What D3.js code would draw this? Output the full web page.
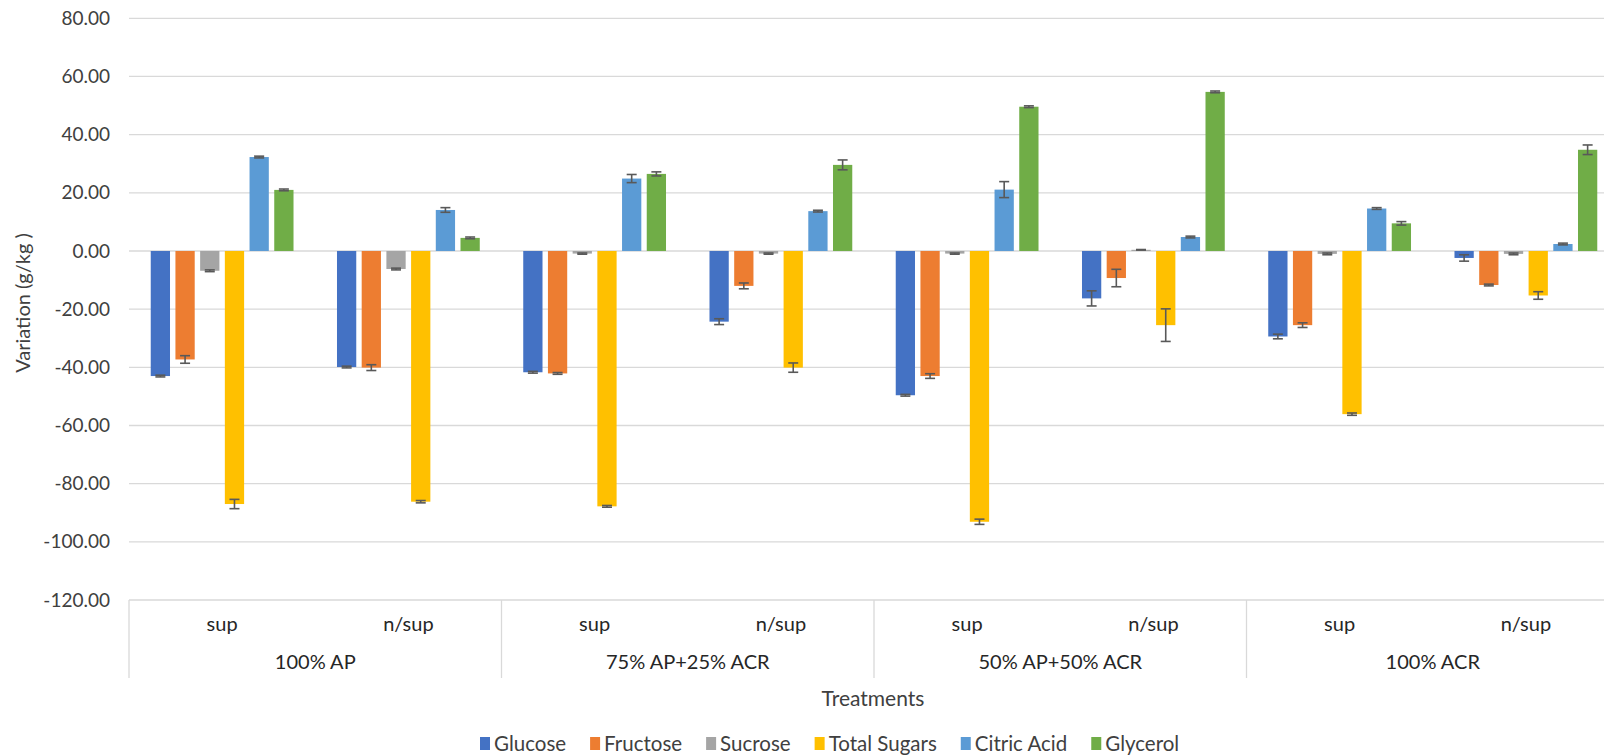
<!DOCTYPE html>
<html>
<head>
<meta charset="utf-8">
<script src="https://cdn.jsdelivr.net/npm/d3@7"></script>
<style>
    body { margin: 0; background: #fff; }
    svg { display: block; font-family: Lato, "Open Sans", sans-serif; }
</style>
</head>
<body>
<svg id="chart" width="1604" height="756"></svg>
<script>
// treatments and sub-categories (sup / n/sup inside each treatment)
const treatments = ["100% AP", "75% AP+25% ACR", "50% AP+50% ACR", "100% ACR"];
const subcats = ["sup", "n/sup"];
const series = ["Glucose", "Fructose", "Sucrose", "Total Sugars", "Citric Acid", "Glycerol"];
const colors = ["#4472C4", "#ED7D31", "#A5A5A5", "#FFC000", "#5B9BD5", "#70AD47"];

// values per series, order: AP sup, AP n/sup, 75/25 sup, 75/25 n/sup, 50/50 sup, 50/50 n/sup, ACR sup, ACR n/sup
const glucose     = [-43.0, -39.9, -41.7, -24.3, -49.6, -16.3, -29.4, -2.4];
const fructose    = [-37.3, -40.1, -42.1, -12.0, -43.0, -9.3, -25.5, -11.7];
const sucrose     = [-6.8, -6.2, -0.9, -0.9, -0.9, 0.4, -1.0, -1.0];
const totalSugars = [-87.0, -86.2, -87.8, -40.1, -93.1, -25.5, -56.1, -15.3];
const citricAcid  = [32.3, 14.1, 24.9, 13.7, 21.1, 4.8, 14.6, 2.4];
const glycerol    = [21.0, 4.5, 26.5, 29.6, 49.6, 54.7, 9.5, 34.8];

// error bar half-lengths
const glucoseErr     = [0.3, 0.3, 0.3, 1.0, 0.3, 2.6, 0.8, 1.1];
const fructoseErr    = [1.3, 1.0, 0.3, 1.0, 0.8, 3.0, 0.8, 0.3];
const sucroseErr     = [0.3, 0.3, 0.2, 0.2, 0.2, 0.1, 0.3, 0.3];
const totalSugarsErr = [1.6, 0.4, 0.3, 1.6, 0.9, 5.6, 0.4, 1.3];
const citricAcidErr  = [0.3, 0.8, 1.4, 0.3, 2.75, 0.3, 0.3, 0.3];
const glycerolErr    = [0.3, 0.3, 0.7, 1.7, 0.3, 0.3, 0.6, 1.65];

const yTicks = [-120, -100, -80, -60, -40, -20, 0, 20, 40, 60, 80];

const values = [glucose, fructose, sucrose, totalSugars, citricAcid, glycerol];
const errors = [glucoseErr, fructoseErr, sucroseErr, totalSugarsErr, citricAcidErr, glycerolErr];

// leaf keys
const leaves = [];
treatments.forEach(t => subcats.forEach(s => leaves.push(t + "|" + s)));

const svg = d3.select("#chart");
const plotLeft = 129, plotRight = 1619, plotTop = 18.3, plotBottom = 600;

const y = d3.scaleLinear().domain([-120, 80]).range([plotBottom, plotTop]);
const x0 = d3.scaleBand().domain(leaves).range([plotLeft, plotRight]);
const xg = d3.scaleBand().domain(treatments).range([plotLeft, plotRight]);
const x1 = d3.scaleBand().domain(series).range([0, x0.bandwidth()])
    .paddingInner(0.22).paddingOuter(0.88);

const fmt = d3.formatLocale({decimal: ".", thousands: ",", grouping: [3], currency: ["", ""], minus: "-"}).format(".2f");

// gridlines
svg.append("g").selectAll("line").data(yTicks).join("line")
    .attr("x1", plotLeft).attr("x2", plotRight)
    .attr("y1", d => y(d)).attr("y2", d => y(d))
    .style("stroke", "#D9D9D9").style("stroke-width", 1.3);

// y tick labels
svg.append("g").selectAll("text").data(yTicks).join("text")
    .attr("x", 110).attr("y", d => y(d)).attr("dy", "0.35em")
    .attr("text-anchor", "end")
    .style("font-size", "19px").style("fill", "#404040")
    .text(d => fmt(d));

// bars
const barG = svg.append("g");
series.forEach((s, si) => {
    barG.append("g").selectAll("rect").data(values[si]).join("rect")
        .attr("x", (d, i) => x0(leaves[i]) + x1(s))
        .attr("width", x1.bandwidth())
        .attr("y", d => y(Math.max(0, d)))
        .attr("height", d => Math.abs(y(d) - y(0)))
        .style("fill", colors[si]);
});

// error bars
const errG = svg.append("g").style("stroke", "#595959").style("stroke-width", 1.6);
series.forEach((s, si) => {
    values[si].forEach((v, i) => {
        let e = errors[si][i];
        let cx = x0(leaves[i]) + x1(s) + x1.bandwidth() / 2;
        errG.append("line").attr("x1", cx).attr("x2", cx).attr("y1", y(v - e)).attr("y2", y(v + e));
        [v - e, v + e].forEach(c => {
            errG.append("line").attr("x1", cx - 5).attr("x2", cx + 5).attr("y1", y(c)).attr("y2", y(c));
        });
    });
});

// category axis box lines
const sepY2 = 678;
const boundaries = treatments.map(t => xg(t));
svg.append("g").selectAll("line").data(boundaries).join("line")
    .attr("x1", d => d).attr("x2", d => d)
    .attr("y1", plotBottom).attr("y2", sepY2)
    .style("stroke", "#D9D9D9").style("stroke-width", 1.3);

// sub-category labels
svg.append("g").selectAll("text").data(leaves).join("text")
    .attr("x", d => x0(d) + x0.bandwidth() / 2).attr("y", 624).attr("dy", "0.35em")
    .attr("text-anchor", "middle")
    .style("font-size", "20px").style("fill", "#262626")
    .text(d => d.split("|")[1]);

// treatment labels
svg.append("g").selectAll("text").data(treatments).join("text")
    .attr("x", d => xg(d) + xg.bandwidth() / 2).attr("y", 662).attr("dy", "0.35em")
    .attr("text-anchor", "middle")
    .style("font-size", "20px").style("fill", "#262626")
    .text(d => d);

// axis titles
svg.append("text")
    .attr("x", 873).attr("y", 699).attr("dy", "0.35em")
    .attr("text-anchor", "middle")
    .style("font-size", "21px").style("fill", "#404040")
    .text("Treatments");

svg.append("text")
    .attr("transform", "translate(23,303) rotate(-90)")
    .attr("dy", "0.35em")
    .attr("text-anchor", "middle")
    .style("font-size", "20px").style("fill", "#404040")
    .text("Variation (g/kg )");

// legend
const legend = svg.append("g");
let lx = 480;
series.forEach((s, si) => {
    legend.append("rect").attr("x", lx).attr("y", 737).attr("width", 10).attr("height", 13)
        .style("fill", colors[si]);
    let t = legend.append("text").attr("x", lx + 14).attr("y", 744).attr("dy", "0.35em")
        .style("font-size", "20.5px").style("fill", "#404040").text(s);
    lx += 14 + t.node().getComputedTextLength() + 24;
});
</script>
</body>
</html>
